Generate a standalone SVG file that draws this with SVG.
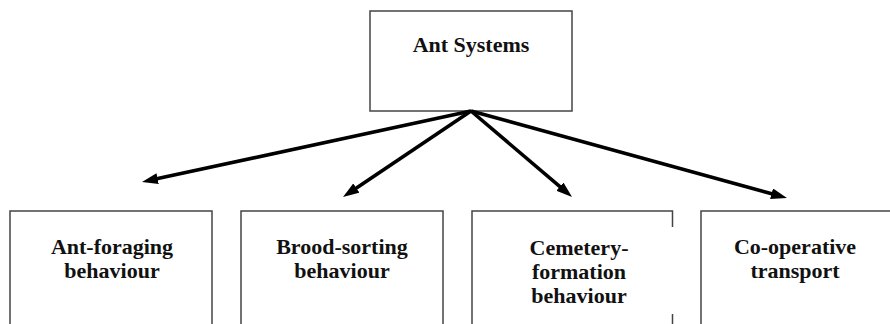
<svg xmlns="http://www.w3.org/2000/svg" width="890" height="324" viewBox="0 0 890 324">
  <style>
    .box { fill: #ffffff; stroke: #444444; stroke-width: 1.5; }
    .label { font-family: 'Liberation Serif', 'Times New Roman', serif; font-weight: 700; font-size: 22px; fill: #111111; text-anchor: middle; }
    .link { stroke: #000000; stroke-width: 3.6; fill: none; marker-end: url(#head); }
  </style>
  <defs>
    <marker id="head" viewBox="0 0 16 11" refX="7" refY="5.5" markerWidth="16" markerHeight="11" markerUnits="userSpaceOnUse" orient="auto">
      <path d="M0,0 L16,5.5 L0,11 Z" fill="#000000"/>
    </marker>
  </defs>
  <rect width="890" height="324" fill="#ffffff"/>

  <g id="ant-systems">
    <rect class="box" x="370" y="11" width="202" height="100"/>
    <text class="label" x="471" y="52">Ant Systems</text>
  </g>

  <g id="ant-foraging">
    <rect class="box" x="10" y="211" width="202" height="130"/>
    <text class="label" x="112" y="254">Ant-foraging</text>
    <text class="label" x="112" y="278">behaviour</text>
  </g>

  <g id="brood-sorting">
    <rect class="box" x="241" y="211" width="202" height="130"/>
    <text class="label" x="342" y="254">Brood-sorting</text>
    <text class="label" x="342" y="278">behaviour</text>
  </g>

  <g id="cemetery-formation">
    <!-- right side is broken between the two stubs -->
    <path class="box" fill="none" d="M672.5,227 V211 H472 V340 M672.5,314 V340"/>
    <text class="label" x="579" y="255">Cemetery-</text>
    <text class="label" x="579" y="279">formation</text>
    <text class="label" x="579" y="303">behaviour</text>
  </g>

  <g id="co-operative-transport">
    <rect class="box" x="701" y="211" width="200" height="130"/>
    <text class="label" x="795" y="254">Co-operative</text>
    <text class="label" x="795" y="278">transport</text>
  </g>

  <g id="connectors">
    <line class="link" x1="471" y1="111" x2="150.8" y2="180.1"/>
    <line class="link" x1="471" y1="111" x2="350.5" y2="191.9"/>
    <line class="link" x1="471" y1="111" x2="565.2" y2="191.2"/>
    <line class="link" x1="471" y1="111" x2="778.3" y2="195.6"/>
  </g>
</svg>
